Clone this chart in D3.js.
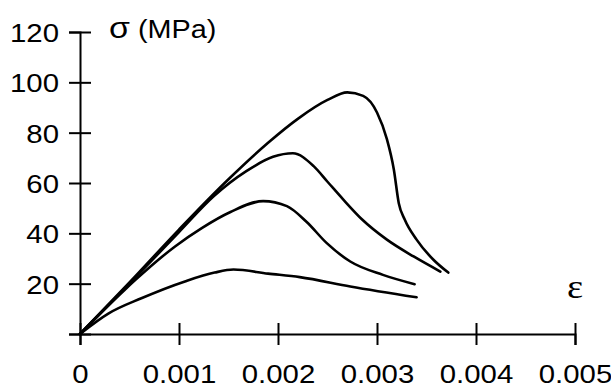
<!DOCTYPE html>
<html>
<head>
<meta charset="utf-8">
<script src="https://cdn.jsdelivr.net/npm/d3@7"></script>
<style>
  html, body { margin: 0; padding: 0; background: #fff; }
  svg { display: block; }
  text { font-family: "Liberation Sans", Arial, sans-serif; fill: #000; }
</style>
</head>
<body>
<svg id="chart" width="611" height="388"></svg>
<script>
// Stress-strain curves: [strain, stress (MPa)]
const curveA = [[0,0],[0.0005,20.5],[0.001,41.5],[0.0015,61.5],[0.0019,76],[0.0022,85.5],[0.0025,93],[0.0027,96],[0.00286,94.6],[0.003,88],[0.0031,77.4],[0.00317,65.4],[0.00322,52],[0.00328,45.5],[0.0034,37.5],[0.00357,29.5],[0.00372,24.4]];
const curveB = [[0,0],[0.0005,20],[0.001,40.5],[0.00135,54.7],[0.00168,64.7],[0.00195,70.4],[0.00215,71.8],[0.00236,66.7],[0.0025,60.5],[0.00266,53.4],[0.00285,45.5],[0.0031,37.5],[0.00337,30.8],[0.00364,24.8]];
const curveC = [[0,0],[0.00045,17.5],[0.00056,21.5],[0.00096,34.8],[0.00123,42.1],[0.00152,48.5],[0.00185,52.8],[0.00209,50.8],[0.00229,44.5],[0.00249,36.2],[0.00273,28.8],[0.00306,23.5],[0.00338,19.8]];
const curveD = [[0,0],[0.00029,8.2],[0.00062,14.2],[0.00106,20.9],[0.00136,24.4],[0.00155,25.6],[0.0019,24],[0.00222,22.6],[0.00273,18.9],[0.0034,14.6]];

const xTicks = [0, 0.001, 0.002, 0.003, 0.004, 0.005];
const yTicks = [0, 20, 40, 60, 80, 100, 120];
const xTickLabels = ["0", "0.001", "0.002", "0.003", "0.004", "0.005"];
const yTickLabels = ["", "20", "40", "60", "80", "100", "120"];
const yTitle = "σ (MPa)";
const xTitle = "ε";

// Text is drawn slightly widened
const widen = "scale(1.13,1)";

const svg = d3.select("#chart");
const x = d3.scaleLinear().domain([0, 0.005]).range([80, 575]);
const y = d3.scaleLinear().domain([0, 120]).range([334, 32]);

// Axes with cross ticks
const gx = svg.append("g").attr("transform", `translate(0,${y(0)})`)
  .call(d3.axisBottom(x).tickValues(xTicks).tickFormat((d, i) => xTickLabels[i]).tickSizeOuter(0).tickSize(11));
gx.selectAll(".tick line").attr("y1", -11).attr("y2", 11);
gx.selectAll(".tick text").attr("x", 0).attr("y", 49).attr("dy", 0)
  .attr("transform", widen)
  .style("font-size", "26px").style("font-family", "'Liberation Sans', Arial, sans-serif");

const gy = svg.append("g").attr("transform", `translate(${x(0)},0)`)
  .call(d3.axisLeft(y).tickValues(yTicks).tickFormat((d, i) => yTickLabels[i]).tickSizeOuter(0).tickSize(11));
gy.selectAll(".tick line").attr("x1", -11).attr("x2", 11);
gy.selectAll(".tick text").attr("x", 0).attr("dy", "0.36em")
  .attr("transform", `translate(-21,0) ${widen}`)
  .style("font-size", "26px").style("font-family", "'Liberation Sans', Arial, sans-serif");

svg.selectAll(".domain, .tick line").attr("stroke", "#000").attr("stroke-width", 2);

// Axis titles
const title = svg.append("text").attr("transform", `translate(109,37.5) ${widen}`).style("font-size", "25.5px");
title.append("tspan").style("font-size", "30px").text(yTitle.slice(0, 1));
title.append("tspan").text(yTitle.slice(1));
svg.append("text").attr("transform", `translate(575,298) ${widen}`).attr("text-anchor", "middle")
  .style("font-family", "'Liberation Serif', 'Times New Roman', serif").style("font-size", "34px").text(xTitle);

// Curves
const line = d3.line().x(d => x(d[0])).y(d => y(d[1])).curve(d3.curveMonotoneX);
svg.append("g").selectAll("path").data([curveA, curveB, curveC, curveD]).join("path")
  .attr("d", line).attr("fill", "none").attr("stroke", "#000").attr("stroke-width", 2.6)
  .attr("stroke-linejoin", "round").attr("stroke-linecap", "round");
</script>
</body>
</html>
